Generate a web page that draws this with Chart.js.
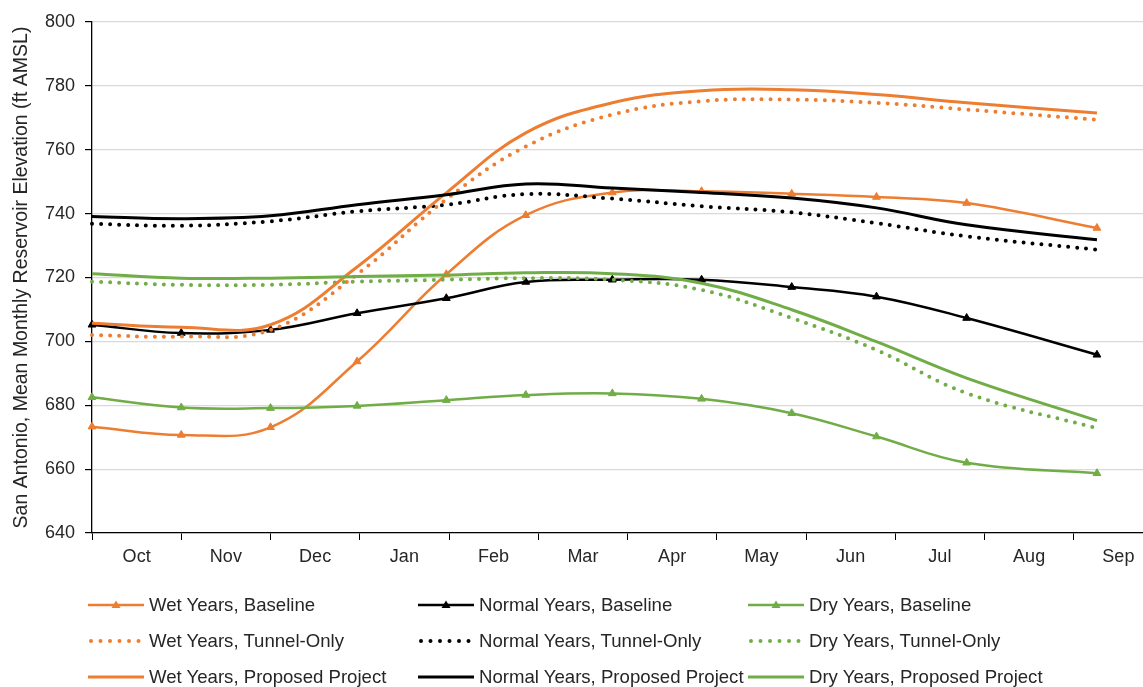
<!DOCTYPE html>
<html>
<head>
<meta charset="utf-8">
<script src="https://cdn.jsdelivr.net/npm/chart.js@4.4.1/dist/chart.umd.min.js"></script>
<style>
  html, body { margin: 0; padding: 0; background: #fff; overflow: hidden; }
  #wrap { position: relative; width: 1143px; height: 687px; overflow: hidden; }
  #chart { position: absolute; left: 0; top: 0; }
  #legend { position: absolute; left: 0; top: 0; width: 1143px; height: 687px; pointer-events: none;
            font-family: "Liberation Sans", Arial, sans-serif; font-size: 18.6px; color: #262626; }
  .item { position: absolute; display: flex; align-items: center; white-space: nowrap; }
  .item svg { display: block; margin-right: 5px; }
</style>
</head>
<body>
<div id="wrap">
  <canvas id="chart" width="1170" height="580"></canvas>
  <div id="legend"></div>
</div>
<script>
// water-year months shown along the bottom axis
const months = ['Oct', 'Nov', 'Dec', 'Jan', 'Feb', 'Mar', 'Apr', 'May', 'Jun', 'Jul', 'Aug', 'Sep'];
// position of each monthly value along the axis (in months from start of Oct)
const monthPos = [0, 1, 2, 2.97, 3.97, 4.86, 5.83, 6.83, 7.84, 8.79, 9.80, 11.26];
const yTicks = [640, 660, 680, 700, 720, 740, 760, 780, 800];

// mean monthly reservoir elevation, ft AMSL
const wetBaseline   = [673.3, 670.7, 673.1, 693.7, 721.0, 739.5, 746.6, 747.0, 746.2, 745.2, 743.3, 735.5];
const wetTunnel     = [702.0, 701.5, 703.6, 721.0, 744.5, 761.0, 771.0, 775.2, 775.7, 774.7, 772.6, 769.4];
const wetProposed   = [705.7, 704.4, 705.2, 723.3, 746.5, 765.3, 774.7, 778.5, 778.8, 777.3, 774.7, 771.5];
const normBaseline  = [705.2, 702.6, 703.6, 708.8, 713.5, 718.6, 719.3, 719.3, 717.0, 714.0, 707.3, 695.8];
const normTunnel    = [736.8, 736.2, 737.6, 740.7, 742.8, 746.1, 744.7, 742.3, 740.4, 737.0, 732.9, 728.7];
const normProposed  = [739.1, 738.4, 739.3, 742.8, 745.9, 749.3, 748.0, 746.6, 744.9, 741.8, 736.5, 731.8];
const dryBaseline   = [682.5, 679.3, 679.1, 679.8, 681.6, 683.2, 683.7, 682.0, 677.5, 670.2, 662.0, 658.7];
const dryTunnel     = [718.7, 717.7, 717.7, 718.7, 719.3, 719.8, 719.3, 716.1, 707.3, 697.3, 683.8, 672.8];
const dryProposed   = [721.2, 719.8, 719.8, 720.3, 720.8, 721.5, 721.2, 718.2, 709.9, 699.9, 688.5, 675.2];

const ORANGE = '#ED7D31';
const BLACK  = '#000000';
const GREEN  = '#70AD47';
const FONT = "'Liberation Sans', Arial, sans-serif";

const toPoints = vals => vals.map((v, i) => ({ x: monthPos[i], y: v }));

// kind: baseline = solid w/ triangles, tunnel = round dots, proposed = plain solid
function series(label, vals, color, kind) {
  const ds = {
    label,
    data: toPoints(vals),
    borderColor: color,
    backgroundColor: color,
    xAxisID: 'x',
    tension: 0.4,
    fill: false,
    clip: false,
    pointRadius: 0,
    pointHoverRadius: 0,
  };
  if (kind === 'baseline') {
    ds.borderWidth = 2.5;
    ds.pointStyle = 'triangle';
    ds.pointRadius = 4.5;
    ds.pointBorderWidth = 1;
  } else if (kind === 'tunnel') {
    ds.borderWidth = 4;
    ds.borderDash = [0, 9];
    ds.borderCapStyle = 'round';
  } else {
    ds.borderWidth = 3;
  }
  ds._kind = kind;
  return ds;
}

const datasets = [
  series('Wet Years, Baseline', wetBaseline, ORANGE, 'baseline'),
  series('Normal Years, Baseline', normBaseline, BLACK, 'baseline'),
  series('Dry Years, Baseline', dryBaseline, GREEN, 'baseline'),
  series('Wet Years, Tunnel-Only', wetTunnel, ORANGE, 'tunnel'),
  series('Normal Years, Tunnel-Only', normTunnel, BLACK, 'tunnel'),
  series('Dry Years, Tunnel-Only', dryTunnel, GREEN, 'tunnel'),
  series('Wet Years, Proposed Project', wetProposed, ORANGE, 'proposed'),
  series('Normal Years, Proposed Project', normProposed, BLACK, 'proposed'),
  series('Dry Years, Proposed Project', dryProposed, GREEN, 'proposed'),
];
datasets.forEach((d, i) => { d.order = datasets.length - i; });

const chart = new Chart(document.getElementById('chart').getContext('2d'), {
  type: 'line',
  data: { datasets },
  options: {
    responsive: false,
    animation: false,
    layout: { padding: { top: 22, right: 7, left: 0, bottom: 0 } },
    plugins: {
      legend: { display: false },
      tooltip: { enabled: false },
    },
    scales: {
      x: {
        type: 'linear',
        min: 0, max: 12,
        display: false,
      },
      months: {
        type: 'category',
        labels: months,
        position: 'bottom',
        offset: true,
        border: { color: '#000', width: 1.3 },
        grid: { offset: true, drawOnChartArea: false, tickColor: '#000', tickLength: 7 },
        ticks: { color: '#262626', font: { family: FONT, size: 18 }, padding: 6, autoSkip: false, maxRotation: 0 },
        afterFit: s => { s.height = 47; },
      },
      y: {
        min: 640, max: 800,
        afterBuildTicks: s => { s.ticks = yTicks.map(v => ({ value: v })); },
        border: { color: '#000', width: 1.3 },
        grid: { color: '#D9D9D9', lineWidth: 1.2, tickColor: '#000', tickLength: 7 },
        ticks: { color: '#262626', font: { family: FONT, size: 18 }, padding: 10 },
        title: {
          display: true,
          text: 'San Antonio, Mean Monthly Reservoir Elevation (ft AMSL)',
          color: '#262626',
          font: { family: FONT, size: 19.5 },
          padding: { top: 10, bottom: 0 },
        },
        afterFit: s => { s.width = 92; },
      },
    },
  },
});

// legend laid out in three fixed columns
const legendCols = [88, 418, 748];
const legendRows = [605, 641, 677];

function sampleSvg(ds) {
  const c = ds.borderColor;
  let inner;
  if (ds._kind === 'tunnel') {
    inner = `<line x1="3" y1="8" x2="55" y2="8" stroke="${c}" stroke-width="4" stroke-linecap="round" stroke-dasharray="0 9.5"/>`;
  } else {
    inner = `<line x1="0" y1="8" x2="56" y2="8" stroke="${c}" stroke-width="${ds.borderWidth}"/>`;
    if (ds._kind === 'baseline') {
      inner += `<polygon points="28,3.5 32.5,11 23.5,11" fill="${c}"/>`;
    }
  }
  return `<svg width="56" height="16" viewBox="0 0 56 16">${inner}</svg>`;
}

const legendEl = document.getElementById('legend');
datasets.forEach((ds, i) => {
  const col = i % 3, row = Math.floor(i / 3);
  const el = document.createElement('div');
  el.className = 'item';
  el.style.left = legendCols[col] + 'px';
  el.style.top = (legendRows[row] - 11) + 'px';
  el.style.height = '22px';
  el.innerHTML = sampleSvg(ds) + `<span>${ds.label}</span>`;
  legendEl.appendChild(el);
});
</script>
</body>
</html>
